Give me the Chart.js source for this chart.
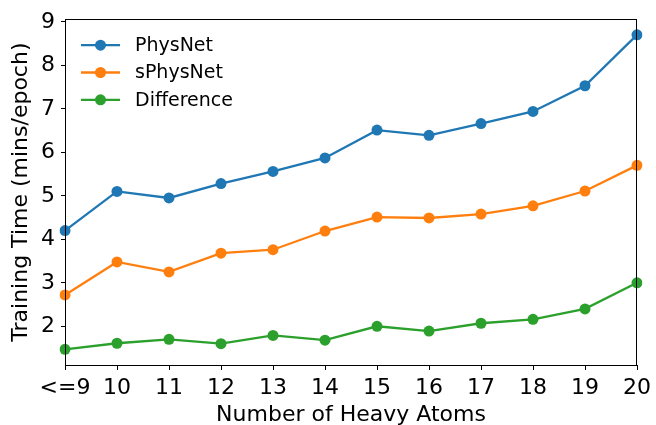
<!DOCTYPE html>
<html>
<head>
<meta charset="utf-8">
<script src="https://cdn.jsdelivr.net/npm/chart.js@4.4.1/dist/chart.umd.min.js"></script>
<style>
  html, body { margin: 0; padding: 0; background: #fff; }
  #wrap { width: 656px; height: 425px; }
</style>
</head>
<body>
<div id="wrap"><canvas id="chart-training-time"></canvas></div>
<script>
// number of heavy atoms
var atomLabels = ['<=9', '10', '11', '12', '13', '14', '15', '16', '17', '18', '19', '20'];
// training time, mins/epoch
var physNet    = [4.20, 5.10, 4.95, 5.28, 5.56, 5.87, 6.51, 6.39, 6.66, 6.94, 7.53, 8.70];
var sPhysNet   = [2.72, 3.48, 3.25, 3.68, 3.76, 4.19, 4.51, 4.49, 4.58, 4.77, 5.11, 5.70];
var difference = [1.47, 1.61, 1.70, 1.60, 1.79, 1.68, 2.00, 1.89, 2.07, 2.16, 2.40, 3.00];
var yTicks = [2, 3, 4, 5, 6, 7, 8, 9];

var FONT = 'DejaVu Sans';

function series(label, data, color) {
	return {
		label: label,
		data: data,
		borderColor: color,
		backgroundColor: color,
		borderWidth: 2.3,
		pointRadius: 5.5,
		pointHoverRadius: 5.5,
		pointBorderWidth: 0,
		lineTension: 0,
		fill: false
	};
}

// matplotlib-style frame + legend inside the axes
var framePlugin = {
	id: 'frame',
	afterDraw: function(chart) {
		var ctx = chart.ctx, a = chart.chartArea;
		ctx.save();
		ctx.strokeStyle = '#000';
		ctx.lineWidth = 1;
		ctx.strokeRect(Math.round(a.left) + 0.5, Math.round(a.top) + 0.5,
			Math.round(a.right - a.left) - 1, Math.round(a.bottom - a.top));

		ctx.font = '19px "' + FONT + '"';
		ctx.textBaseline = 'middle';
		chart.data.datasets.forEach(function(ds, i) {
			var y = a.top + 26 + i * 27.3;
			var x0 = a.left + 16;
			ctx.strokeStyle = ds.borderColor;
			ctx.lineWidth = 2.3;
			ctx.beginPath();
			ctx.moveTo(x0, y);
			ctx.lineTo(x0 + 39, y);
			ctx.stroke();
			ctx.fillStyle = ds.borderColor;
			ctx.beginPath();
			ctx.arc(x0 + 19.5, y, 5.5, 0, Math.PI * 2);
			ctx.fill();
			ctx.fillStyle = '#000';
			ctx.fillText(ds.label, x0 + 54, y + 1);
		});
		ctx.restore();
	}
};

var el = document.getElementById('chart-training-time');
var chart = new Chart(el, {
	type: 'line',
	data: {
		labels: atomLabels,
		datasets: [
			series('PhysNet', physNet, '#1f77b4'),
			series('sPhysNet', sPhysNet, '#ff7f0e'),
			series('Difference', difference, '#2ca02c')
		]
	},
	options: {
		responsive: true,
		maintainAspectRatio: false,
		animation: false,
		layout: { padding: { top: 16, right: 18, left: 0, bottom: 0 } },
		plugins: {
			legend: { display: false },
			tooltip: { enabled: false }
		},
		scales: {
			x: {
				type: 'category',
				offset: false,
				afterFit: function(axis) { axis.height = 60; },
				border: { display: false },
				grid: { drawOnChartArea: false, drawTicks: true, tickLength: 5, color: '#000', lineWidth: 1 },
				ticks: { color: '#000', font: { family: FONT, size: 22 }, padding: 5, maxRotation: 0, autoSkip: false },
				title: { display: true, text: 'Number of Heavy Atoms', color: '#000', font: { family: FONT, size: 22 }, padding: { top: -3, bottom: -3 } }
			},
			y: {
				min: 1.11,
				max: 9.06,
				afterFit: function(axis) { axis.width = 65; },
				afterBuildTicks: function(axis) {
					axis.ticks = yTicks.map(function(v) { return { value: v }; });
				},
				border: { display: false },
				grid: { drawOnChartArea: false, drawTicks: true, tickLength: 4, color: '#000', lineWidth: 1 },
				ticks: { color: '#000', font: { family: FONT, size: 22 }, padding: 6 },
				title: { display: true, text: 'Training Time (mins/epoch)', color: '#000', font: { family: FONT, size: 22 }, padding: { top: 8, bottom: 0 } }
			}
		}
	},
	plugins: [framePlugin]
});
</script>
</body>
</html>
